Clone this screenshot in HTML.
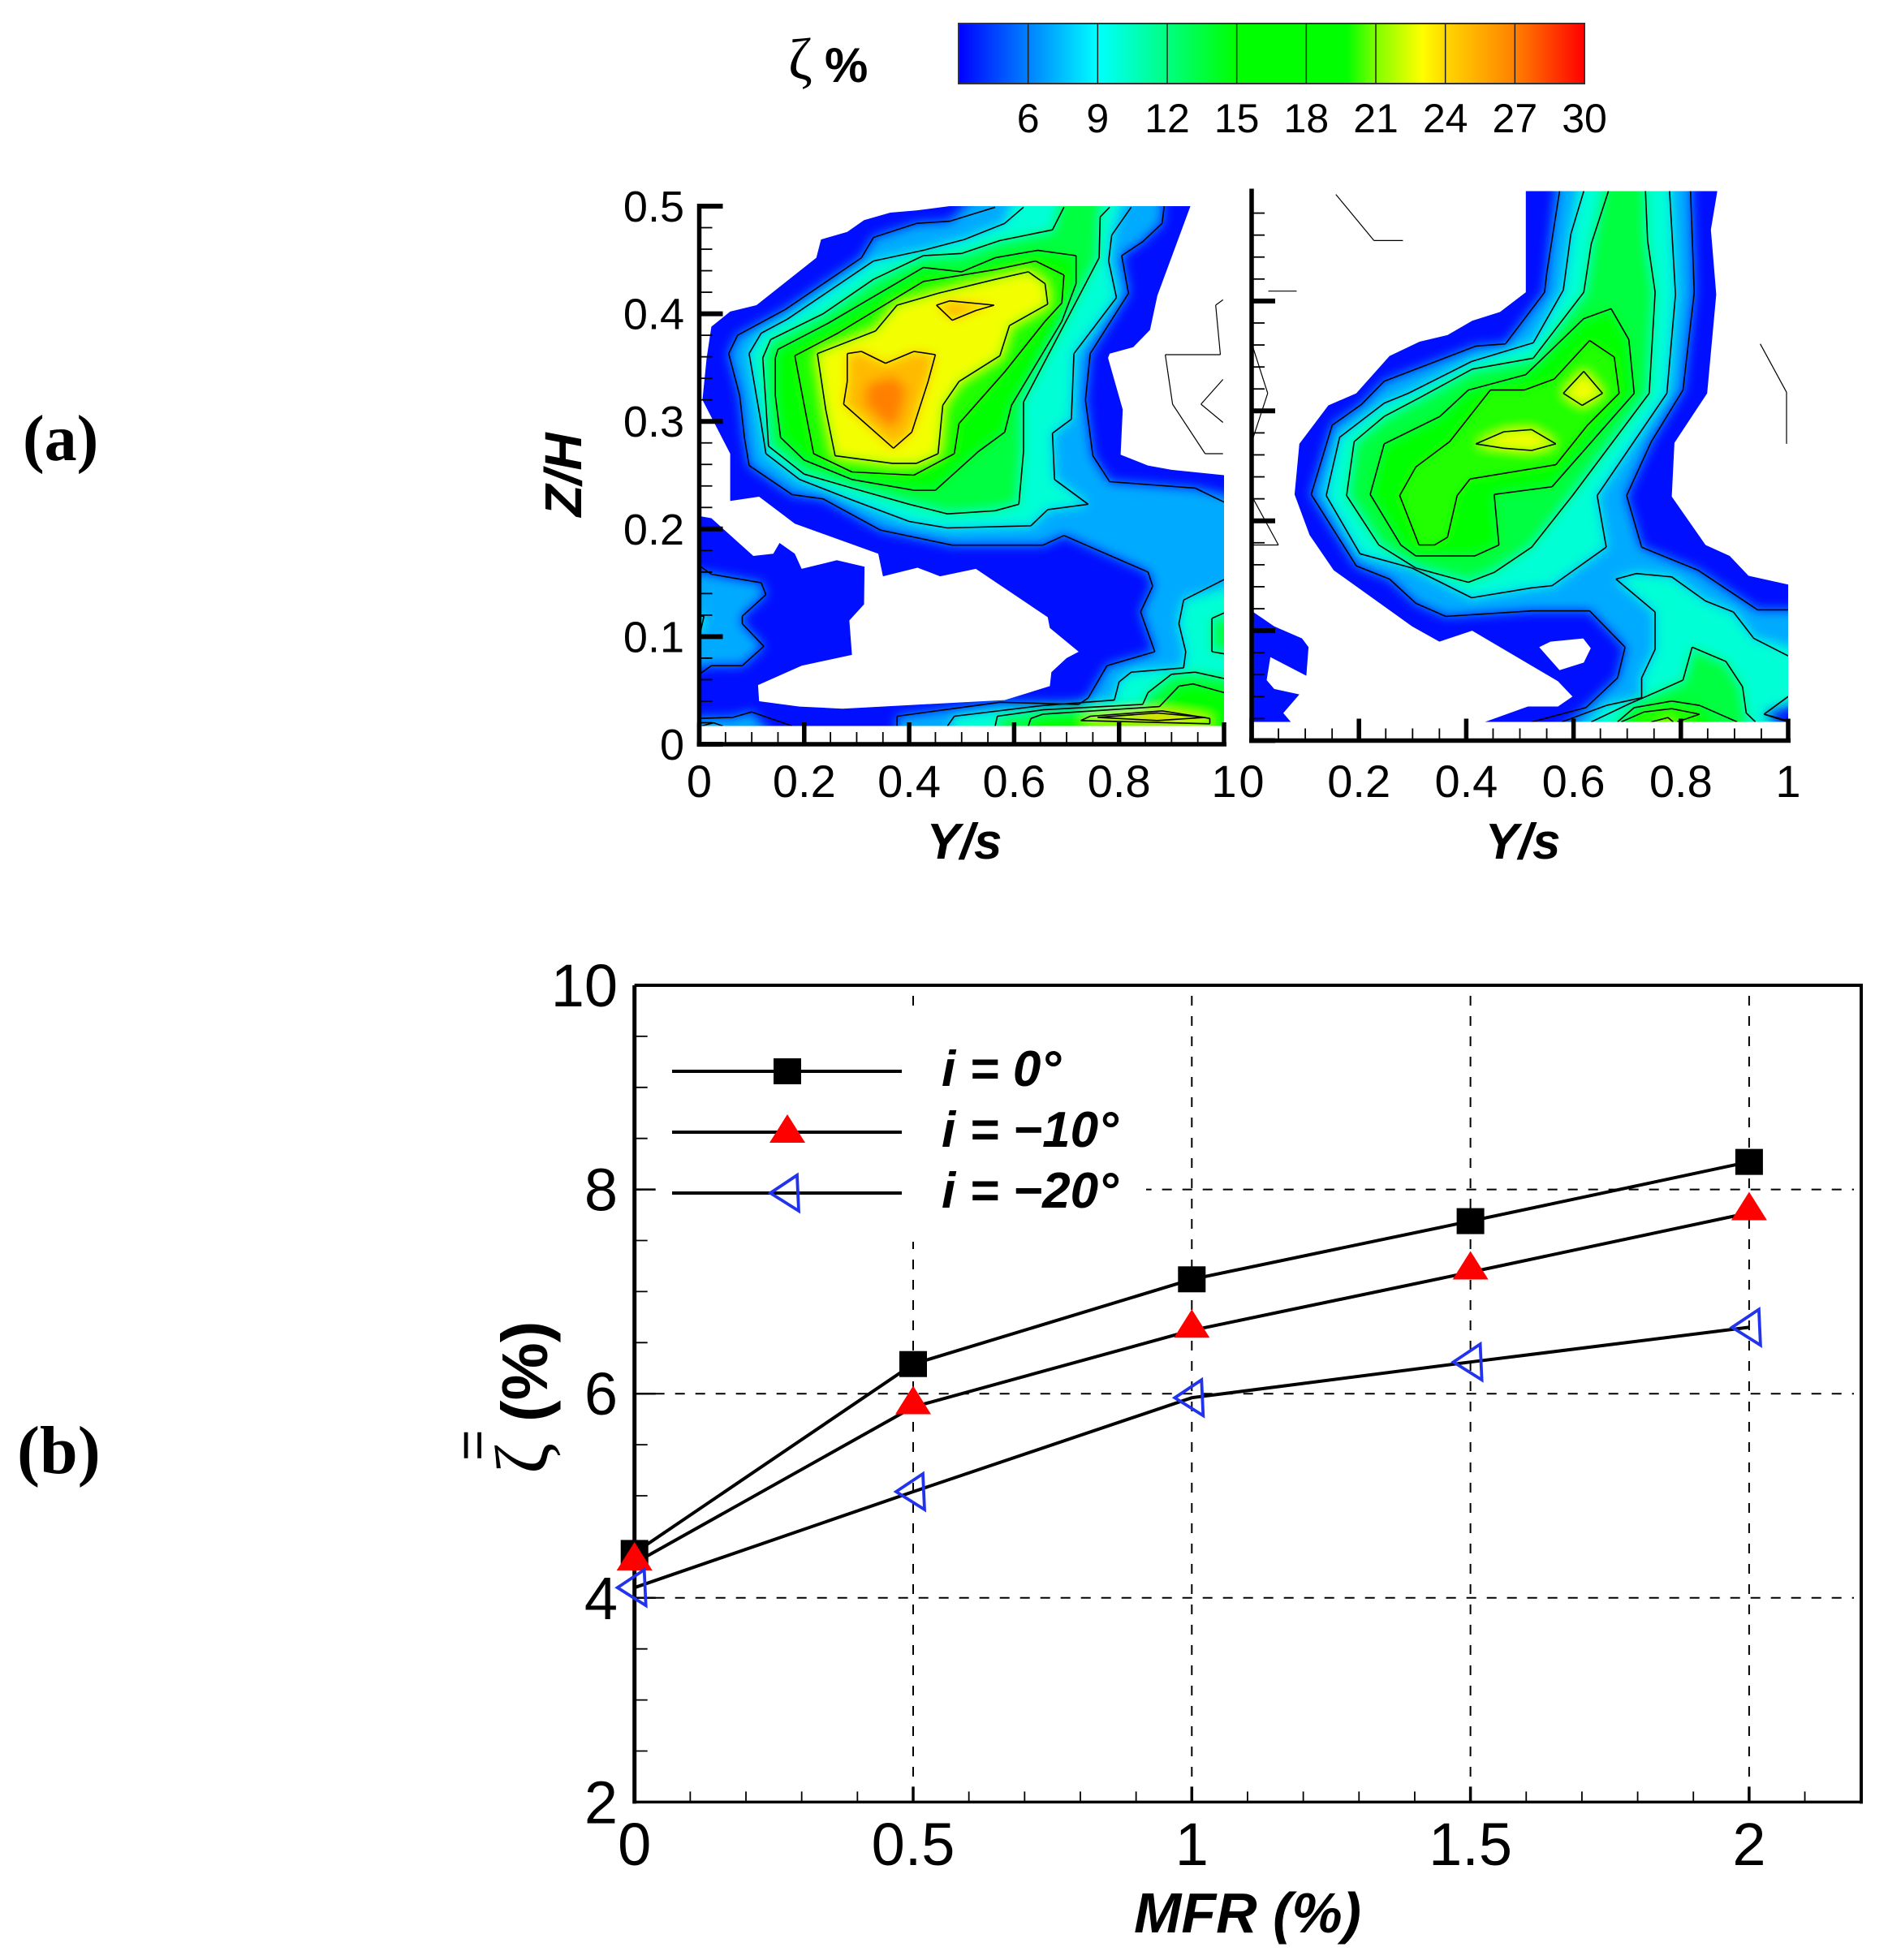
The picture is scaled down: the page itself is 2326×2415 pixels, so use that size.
<!DOCTYPE html>
<html lang="en">
<head>
<meta charset="utf-8">
<title>Loss coefficient contours and MFR chart</title>
<style>
html,body{margin:0;padding:0;background:#fff;width:2326px;height:2415px;overflow:hidden}
svg{display:block}
text{font-family:"Liberation Sans",sans-serif;fill:#000}
.serif{font-family:"Liberation Serif","DejaVu Serif",serif}
.title{font-weight:bold;font-style:italic}
</style>
</head>
<body>
<svg id="figure" xmlns="http://www.w3.org/2000/svg" width="2326" height="2415" viewBox="0 0 2326 2415">
  <defs>
    <linearGradient id="cbGrad" x1="0" x2="1" y1="0" y2="0">
      <stop offset="0" stop-color="#0000ff"/>
      <stop offset="0.111" stop-color="#0080ff"/>
      <stop offset="0.222" stop-color="#00ffff"/>
      <stop offset="0.333" stop-color="#00ff80"/>
      <stop offset="0.444" stop-color="#00ff00"/>
      <stop offset="0.62" stop-color="#00ff00"/>
      <stop offset="0.667" stop-color="#80ff00"/>
      <stop offset="0.74" stop-color="#ffff00"/>
      <stop offset="0.778" stop-color="#ffd700"/>
      <stop offset="0.889" stop-color="#ff8000"/>
      <stop offset="1" stop-color="#ff0000"/>
    </linearGradient>
    <filter id="softBlur" filterUnits="userSpaceOnUse" x="0" y="0" width="2326" height="1200">
      <feGaussianBlur stdDeviation="7"/>
    </filter>
  </defs>

  <text class="serif title" x="28" y="567" font-size="80" style="font-style:normal">(a)</text>
  <text class="serif title" x="21" y="1815" font-size="84" style="font-style:normal">(b)</text>

  <g id="colorbar">
    <rect x="1181" y="29" width="771" height="74" fill="url(#cbGrad)" stroke="#333" stroke-width="2"/>
    <text class="serif" x="971" y="97" font-size="72">ζ</text>
    <text x="1016" y="101" font-size="60" font-weight="bold">%</text>
  </g>

  <g id="contourA"></g>
  <g id="contourB"></g>

  <text class="title" transform="translate(716,585) rotate(-90)" text-anchor="middle" font-size="64">Z/H</text>
  <text class="title" x="1188" y="1058" text-anchor="middle" font-size="62">Y/s</text>
  <text class="title" x="1876" y="1058" text-anchor="middle" font-size="62">Y/s</text>

  <g id="linePlot"></g>

  <text transform="translate(674,1752) rotate(-90)" font-size="80" font-weight="bold">(%)</text>
  <text class="serif" transform="translate(674,1816) rotate(-90)" font-size="92">ζ</text>
  <text transform="translate(604,1800) rotate(-90)" font-size="66">=</text>
  <text class="title" x="1537" y="2381" text-anchor="middle" font-size="70">MFR (%)</text>
</svg>

<script>
// ---------- colour bar data ----------
const colorbarTicks = [6, 9, 12, 15, 18, 21, 24, 27, 30];

// ---------- contour panels: [Y/s, Z/H] ----------
const zTickLabels = ['0', '0.1', '0.2', '0.3', '0.4', '0.5'];
const yLabelsLeft = ['0', '0.2', '0.4', '0.6', '0.8', '1'];
const yLabelsRight = ['0', '0.2', '0.4', '0.6', '0.8', '1'];

const panelAOutline = [[.477,.5],[.414,.496],[.364,.494],[.314,.487],[.282,.476],[.232,.469],[.223,.452],[.109,.408],[.059,.402],[.023,.388],[.014,.359],[.006,.32],[.059,.27],[.059,.226],[.114,.23],[.182,.205],[.341,.177],[.35,.156],[.416,.164],[.459,.156],[.527,.163],[.664,.118],[.668,.108],[.723,.086],[.7,.08],[.671,.067],[.668,.054],[.582,.041],[.427,.037],[.273,.033],[.191,.035],[.114,.04],[.112,.055],[.195,.073],[.291,.083],[.286,.115],[.314,.13],[.315,.165],[.262,.171],[.195,.163],[.182,.177],[.153,.187],[.141,.177],[.103,.175],[.023,.21],[0,.212],[0,.017],[1,.017],[1,.25],[.9,.255],[.855,.259],[.803,.269],[.807,.311],[.779,.359],[.782,.363],[.827,.369],[.859,.385],[.873,.417],[.936,.5]];
const aMain6 = [[.564,.499],[.477,.486],[.414,.484],[.332,.471],[.309,.452],[.164,.404],[.073,.38],[.056,.363],[.077,.324],[.086,.285],[.095,.259],[.177,.232],[.236,.228],[.345,.199],[.482,.185],[.655,.185],[.695,.194],[.855,.16],[.864,.147],[.841,.123],[.868,.086],[.777,.073],[.741,.043],[.723,.037],[.573,.039],[.377,.026],[.377,.017],[1,.017],[1,.225],[.945,.238],[.782,.244],[.75,.268],[.736,.32],[.745,.363],[.818,.419],[.805,.454],[.845,.467],[.882,.484],[.886,.5]];
const aLobe6 = [[0,.166],[.023,.158],[.118,.15],[.127,.139],[.082,.119],[.082,.112],[.123,.091],[.082,.073],[.023,.073],[0,.065]];
const aStrip6 = [[0,.024],[.064,.025],[.1,.03],[.177,.017],[0,.017]];
const aMain9 = [[.618,.499],[.582,.484],[.505,.469],[.427,.459],[.332,.449],[.168,.395],[.118,.382],[.095,.363],[.118,.298],[.127,.27],[.191,.246],[.291,.227],[.4,.207],[.473,.201],[.632,.203],[.664,.218],[.741,.223],[.677,.246],[.673,.289],[.709,.302],[.714,.363],[.795,.415],[.78,.449],[.786,.473],[.823,.499]];
const aSmall9 = [[0,.119],[.009,.119],[.002,.104],[0,.104]];
const aWedge9 = [[1,.153],[.923,.134],[.914,.112],[.927,.086],[.923,.071],[.823,.067],[.8,.058],[.791,.041],[.655,.036],[.486,.026],[.473,.017],[1,.017]];
const aMain12 = [[.695,.499],[.673,.478],[.573,.468],[.5,.456],[.427,.454],[.332,.432],[.236,.4],[.136,.376],[.121,.359],[.127,.316],[.132,.277],[.2,.251],[.291,.238],[.4,.223],[.473,.214],[.564,.217],[.609,.223],[.618,.272],[.618,.318],[.718,.411],[.762,.452],[.764,.49],[.782,.499]];
const aIsland12 = [[1,.122],[.977,.117],[.977,.086],[1,.084]];
const aWedge12 = [[1,.061],[.945,.067],[.9,.065],[.855,.048],[.845,.037],[.655,.032],[.568,.026],[.564,.017],[1,.017]];
const aMain15 = [[.145,.359],[.15,.367],[.245,.391],[.427,.443],[.5,.439],[.564,.452],[.645,.459],[.718,.454],[.718,.428],[.691,.393],[.595,.315],[.582,.29],[.532,.272],[.45,.236],[.409,.236],[.291,.246],[.2,.264],[.155,.285],[.145,.324]];
const aWedge15 = [[1,.048],[.941,.056],[.914,.054],[.877,.035],[.655,.028],[.632,.024],[.627,.017],[1,.017]];
const aCorner15 = [[.005,.017],[.027,.02],[.045,.017]];
const aMain18 = [[.182,.361],[.264,.382],[.427,.43],[.564,.441],[.641,.449],[.695,.436],[.691,.41],[.659,.393],[.582,.346],[.495,.298],[.486,.27],[.409,.25],[.291,.253],[.218,.27],[.2,.315]];
const aMain21 = [[.225,.363],[.336,.384],[.377,.408],[.455,.419],[.564,.432],[.627,.439],[.659,.428],[.664,.409],[.591,.389],[.573,.361],[.495,.337],[.464,.315],[.455,.27],[.414,.261],[.368,.261],[.259,.268],[.241,.311]];
const aWedge21 = [[.973,.024],[.882,.031],[.745,.026],[.727,.022],[.973,.019]];
const aHeart24 = [[.282,.363],[.309,.365],[.355,.354],[.409,.365],[.45,.362],[.436,.337],[.405,.29],[.37,.275],[.275,.316],[.282,.337]];
const aPeak24 = [[.452,.408],[.477,.412],[.562,.408],[.527,.403],[.482,.394]];
const aWedge24 = [[.964,.025],[.873,.029],[.759,.025],[.873,.022]];
const aCore26 = [[.32,.335],[.37,.342],[.395,.33],[.38,.3],[.36,.295],[.315,.316]];
const panelAShapes = [aMain6,aLobe6,aStrip6,aMain9,aSmall9,aWedge9,aMain12,aIsland12,aWedge12,aMain15,aWedge15,aCorner15,aMain18,aMain21,aWedge21,aHeart24,aPeak24,aWedge24,aCore26];
const panelALevels = [6,6,6,9,9,9,12,12,12,15,15,15,18,21,21,24,24,24,26];
const panelABlankLines = [
  [[.998,.413],[.984,.408],[.993,.362],[.888,.362],[.902,.316],[.964,.27],[.998,.27]],
  [[.998,.339],[.956,.316],[.998,.299]]
];

const panelBOutline = [[.511,.5],[.511,.408],[.463,.39],[.411,.382],[.365,.369],[.313,.363],[.257,.35],[.195,.316],[.143,.305],[.089,.27],[.08,.224],[.108,.187],[.153,.155],[.299,.104],[.35,.09],[.411,.1],[.571,.054],[.598,.04],[.571,.031],[.515,.031],[.435,.017],[1,.017],[1,.142],[.926,.15],[.891,.168],[.846,.178],[.783,.222],[.788,.271],[.849,.316],[.866,.406],[.856,.465],[.868,.5]];
const panelBFragment = [[0,.118],[.042,.104],[.094,.093],[.106,.085],[.102,.059],[.035,.076],[.028,.055],[.042,.047],[.089,.042],[.059,.025],[.073,.017],[0,.017]];
const panelBHole = [[.536,.085],[.557,.09],[.618,.093],[.632,.084],[.619,.071],[.574,.064]];
const bMain6 = [[.574,.5],[.55,.425],[.546,.408],[.473,.361],[.418,.359],[.247,.327],[.205,.306],[.15,.287],[.111,.224],[.195,.159],[.257,.147],[.306,.125],[.362,.113],[.522,.118],[.63,.118],[.696,.085],[.682,.057],[.623,.03],[.522,.017],[1,.017],[1,.018],[.955,.024],[1,.04],[1,.119],[.943,.119],[.832,.155],[.727,.176],[.699,.223],[.745,.272],[.804,.319],[.825,.408],[.818,.5]];
const bMain9 = [[.619,.5],[.595,.461],[.581,.41],[.525,.362],[.41,.345],[.292,.316],[.247,.307],[.164,.276],[.139,.223],[.202,.17],[.299,.157],[.41,.13],[.522,.139],[.56,.141],[.661,.176],[.644,.223],[.774,.316],[.79,.406],[.779,.5]];
const bLower9 = [[.679,.147],[.717,.152],[.783,.149],[.846,.127],[.898,.117],[.936,.093],[1,.077],[1,.04],[.955,.024],[1,.017],[.578,.017],[.661,.032],[.727,.039],[.727,.057],[.752,.083],[.752,.117]];
const bMain12 = [[.665,.5],[.633,.452],[.619,.408],[.525,.348],[.411,.338],[.313,.312],[.247,.295],[.191,.272],[.177,.223],[.237,.178],[.306,.157],[.404,.144],[.452,.153],[.522,.176],[.598,.223],[.741,.316],[.752,.408],[.738,.455],[.734,.5]];
const bLower12 = [[.633,.017],[.706,.034],[.758,.045],[.804,.055],[.821,.085],[.884,.072],[.915,.049],[.922,.025],[.939,.017]];
const bMain15 = [[.67,.393],[.703,.365],[.713,.316],[.56,.231],[.452,.224],[.461,.178],[.416,.168],[.306,.168],[.278,.178],[.221,.224],[.247,.27],[.351,.295],[.404,.319],[.511,.333],[.619,.384]];
const bLower15 = [[.682,.017],[.713,.03],[.783,.036],[.835,.032],[.905,.017]];
const bMain18 = [[.276,.223],[.306,.249],[.369,.272],[.445,.319],[.508,.319],[.564,.329],[.63,.364],[.676,.349],[.685,.316],[.626,.287],[.567,.251],[.407,.238],[.383,.223],[.365,.185],[.341,.178],[.312,.178]];
const bLower18 = [[.689,.017],[.731,.026],[.783,.029],[.835,.024],[.793,.017]];
const bSpotA21 = [[.581,.316],[.619,.336],[.654,.316],[.616,.305]];
const bSpotB21 = [[.418,.27],[.47,.281],[.522,.283],[.567,.27],[.522,.264],[.47,.266]];
const bLower21 = [[.745,.017],[.776,.021],[.786,.017]];
const panelBShapes = [bMain6,bMain9,bLower9,bMain12,bLower12,bMain15,bLower15,bMain18,bLower18,bSpotA21,bSpotB21,bLower21];
const panelBLevels = [6,9,9,12,12,15,15,18,18,21,21,21];
const panelBBlankLines = [
  [[.157,.497],[.228,.455],[.282,.455]],
  [[.031,.409],[.084,.409]],
  [[.003,.357],[.03,.316],[.003,.276]],
  [[.003,.22],[.05,.178],[.003,.178]],
  [[.948,.361],[.997,.317],[.997,.27]]
];

// ---------- line plot data ----------
const mfrCategories = [0, 0.5, 1, 1.5, 2];
const mfrTickLabels = ['0', '0.5', '1', '1.5', '2'];
const lossTickValues = [2, 4, 6, 8, 10];
const seriesIncidence0 = [4.44, 6.29, 7.12, 7.69, 8.27];
const seriesIncidence10 = [4.34, 5.87, 6.62, 7.19, 7.77];
const seriesIncidence20 = [4.10, 5.04, 5.96, 6.31, 6.65];
const legendLabels = ['i = 0°', 'i = −10°', 'i = −20°'];

// ---------- helpers ----------
const NS = 'http://www.w3.org/2000/svg';
function mk(tag, attrs, parent) {
  const el = document.createElementNS(NS, tag);
  for (const k in attrs) el.setAttribute(k, attrs[k]);
  parent.appendChild(el);
  return el;
}
function mapColor(v) {
  const s = [[3,0,0,255],[6,0,128,255],[9,0,255,255],[12,0,255,128],[15,0,255,0],[19,0,255,0],[21,130,255,0],[23,255,255,0],[24,255,215,0],[27,255,128,0],[30,255,0,0]];
  for (let i = 1; i < s.length; i++) {
    if (v <= s[i][0]) {
      const t = (v - s[i-1][0]) / (s[i][0] - s[i-1][0]);
      const c = [1,2,3].map(j => Math.round(s[i-1][j] + t * (s[i][j] - s[i-1][j])));
      return 'rgb(' + c.join(',') + ')';
    }
  }
  return 'rgb(255,0,0)';
}
function bandColor(level) {
  if (level <= 9) return mapColor(level + 1);
  if (level === 21) return mapColor(level + 1.8);
  if (level >= 24) return mapColor(level + 1);
  return mapColor(level + 1.5);
}
function polyStr(pts, sx, sy) {
  return pts.map(p => sx(p[0]).toFixed(1) + ',' + sy(p[1]).toFixed(1)).join(' ');
}
function isEdge(p) {
  return p[0] <= .001 || p[0] >= .999 || p[1] >= .499 || p[1] <= .0185;
}
function bleedStr(pts, sx, sy) {
  return pts.map(p => {
    let x = sx(p[0]), y = sy(p[1]);
    if (p[0] <= .001) x -= 40;
    if (p[0] >= .999) x += 40;
    if (p[1] >= .499) y -= 40;
    if (p[1] <= .0185) y += 40;
    return x.toFixed(1) + ',' + y.toFixed(1);
  }).join(' ');
}
function linePath(pts, sx, sy, closed) {
  let d = '';
  const n = pts.length;
  const last = closed ? n : n - 1;
  for (let i = 0; i < last; i++) {
    const a = pts[i], b = pts[(i + 1) % n];
    if (closed && isEdge(a) && isEdge(b)) continue;
    d += 'M' + sx(a[0]).toFixed(1) + ' ' + sy(a[1]).toFixed(1) + 'L' + sx(b[0]).toFixed(1) + ' ' + sy(b[1]).toFixed(1);
  }
  return d;
}

// ---------- colour bar ----------
const cbar = document.getElementById('colorbar');
const cbX = v => 1181 + (v - 3) * (771 / 27);
colorbarTicks.forEach(v => {
  if (v < 30) {
    const t = mk('line', {x1: cbX(v), x2: cbX(v), y1: 29, y2: 103, stroke: '#222', 'stroke-width': 1.5}, cbar);
    
    
  }
  const l = mk('text', {x: cbX(v), y: 163, 'text-anchor': 'middle', 'font-size': 50}, cbar);
  l.textContent = String(v);
  
  
});

// ---------- contour panels ----------
function drawContourPanel(root, key, sx, sy, outlines, shapes, levels, hole, blankLines) {
  const clip = mk('clipPath', {id: 'clip' + key}, root);
  outlines.forEach(o => { mk('polygon', {points: polyStr(o, sx, sy)}, clip); });
  const body = mk('g', {'clip-path': 'url(#clip' + key + ')'}, root);
  
  
  const base = mk('rect', {x: sx(0) - 5, y: sy(.5) - 5, width: sx(1) - sx(0) + 10, height: sy(0) - sy(.5) + 10, fill: 'rgb(0,15,255)'}, body);
  
  
  const soft = mk('g', {filter: 'url(#softBlur)'}, body);
  
  
  shapes.forEach((pts, i) => {
    const pg = mk('polygon', {points: bleedStr(pts, sx, sy), fill: bandColor(levels[i])}, soft);
    
    
  });
  shapes.forEach((pts, i) => {
    if (levels[i] % 3 !== 0) return;
    const ln = mk('path', {d: linePath(pts, sx, sy, true), fill: 'none', stroke: '#000', 'stroke-width': 1.6}, body);
    
    
  });
  if (hole) {
    const h = mk('polygon', {points: polyStr(hole, sx, sy), fill: '#fff'}, root);
    
    
  }
  blankLines.forEach(pts => {
    const bl = mk('path', {d: linePath(pts, sx, sy, false), fill: 'none', stroke: '#000', 'stroke-width': 1.2}, root);
    
    
  });
}
function drawContourAxes(root, sx, sy, labels, zLabels, hasTopTick) {
  const yAxis = mk('line', {x1: sx(0), x2: sx(0), y1: sy(.5) - 3, y2: sy(0) + 3, stroke: '#000', 'stroke-width': 5.5}, root);
  
  
  const xAxis = mk('line', {x1: sx(0) - 3, x2: sx(1) + 3, y1: sy(0), y2: sy(0), stroke: '#000', 'stroke-width': 5.5}, root);
  
  
  for (let i = 0; i <= 25; i++) {
    if (i === 25 && !hasTopTick) continue;
    const z = i * .02, major = i % 5 === 0;
    const t = mk('line', {x1: sx(0), x2: sx(0) + (major ? 29 : 16), y1: sy(z), y2: sy(z), stroke: '#000', 'stroke-width': major ? 6 : 1.8}, root);
    
    
  }
  for (let i = 0; i <= 20; i++) {
    const y = i * .05, major = i % 4 === 0;
    const t = mk('line', {x1: sx(y), x2: sx(y), y1: sy(0), y2: sy(0) - (major ? 27 : 15), stroke: '#000', 'stroke-width': major ? 5.5 : 1.8}, root);
    
    
  }
  labels.forEach((s, i) => {
    const l = mk('text', {x: sx(i * .2), y: 982, 'text-anchor': 'middle', 'font-size': 56}, root);
    l.textContent = s;
    
    
  });
  zLabels.forEach((s, i) => {
    const l = mk('text', {x: 843, y: sy(i * .1) + 19, 'text-anchor': 'end', 'font-size': 54}, root);
    l.textContent = s;
    
    
  });
}
const sxA = v => 861.5 + v * 646.5;
const syA = v => 917 - v * 1326;
const sxB = v => 1542 + v * 661;
const syB = v => 912.5 - v * 1354;
const gA = document.getElementById('contourA');
const gB = document.getElementById('contourB');
drawContourPanel(gA, 'A', sxA, syA, [panelAOutline], panelAShapes, panelALevels, null, panelABlankLines);
drawContourPanel(gB, 'B', sxB, syB, [panelBOutline, panelBFragment], panelBShapes, panelBLevels, panelBHole, panelBBlankLines);
drawContourAxes(gA, sxA, syA, yLabelsLeft, zTickLabels, true);
drawContourAxes(gB, sxB, syB, yLabelsRight, [], false);

// ---------- line plot ----------
const lp = document.getElementById('linePlot');
const sx = v => 781.7 + v * 686.6;
const sy = v => 1214 + (10 - v) * 125.8;
lossTickValues.forEach(v => {
  if (v === 2 || v === 10) return;
  const g = mk('line', {x1: sx(0), x2: 2284, y1: sy(v), y2: sy(v), stroke: '#000', 'stroke-width': 2, 'stroke-dasharray': '12 13'}, lp);
  
  
});
mfrCategories.forEach(v => {
  if (v === 0) return;
  const g = mk('line', {x1: sx(v), x2: sx(v), y1: 1227, y2: sy(2), stroke: '#000', 'stroke-width': 2, 'stroke-dasharray': '12 13'}, lp);
  
  
});
const legendBox = mk('rect', {x: 790, y: 1241, width: 622, height: 289, fill: '#fff'}, lp);



const frameTop = mk('line', {x1: sx(0), x2: 2295, y1: sy(10), y2: sy(10), stroke: '#000', 'stroke-width': 4}, lp);


const frameRight = mk('line', {x1: 2293, x2: 2293, y1: sy(10), y2: sy(2) + 2, stroke: '#000', 'stroke-width': 4}, lp);


const frameBottom = mk('line', {x1: sx(0) - 2, x2: 2295, y1: sy(2), y2: sy(2), stroke: '#000', 'stroke-width': 3.5}, lp);


const frameLeft = mk('line', {x1: sx(0), x2: sx(0), y1: sy(10), y2: sy(2) + 2, stroke: '#000', 'stroke-width': 5}, lp);



for (let i = 0; i <= 16; i++) {
  const v = 2 + i * .5, major = i % 4 === 0;
  const t = mk('line', {x1: sx(0), x2: sx(0) + (major ? 26 : 16), y1: sy(v), y2: sy(v), stroke: '#000', 'stroke-width': major ? 2.5 : 1.8}, lp);
  
  
}
for (let i = 0; i <= 22; i++) {
  const v = i * .1, major = i % 5 === 0;
  const t = mk('line', {x1: sx(v), x2: sx(v), y1: sy(2), y2: sy(2) - (major ? 19 : 13), stroke: '#000', 'stroke-width': major ? 3.5 : 1.8}, lp);
  
  
}
lossTickValues.forEach(v => {
  const l = mk('text', {x: 761, y: sy(v) + 26, 'text-anchor': 'end', 'font-size': 74}, lp);
  l.textContent = String(v);
  
  
});
mfrCategories.forEach((v, i) => {
  const l = mk('text', {x: sx(v), y: 2298, 'text-anchor': 'middle', 'font-size': 74}, lp);
  l.textContent = mfrTickLabels[i];
  
  
});

function squareMarker(parent, x, y) {
  return mk('rect', {x: x - 17, y: y - 16, width: 34, height: 32, fill: '#000'}, parent);
}
function triangleMarker(parent, x, y) {
  return mk('polygon', {points: (x - 22) + ',' + (y + 9) + ' ' + x + ',' + (y - 26) + ' ' + (x + 22) + ',' + (y + 9), fill: '#ff0000'}, parent);
}
function leftTriMarker(parent, x, y) {
  return mk('polygon', {points: (x - 21) + ',' + y + ' ' + (x + 12) + ',' + (y - 22) + ' ' + (x + 14) + ',' + (y + 22), fill: 'none', stroke: '#2233ee', 'stroke-width': 3.8}, parent);
}
const seriesAll = [seriesIncidence0, seriesIncidence10, seriesIncidence20];
const markerFns = [squareMarker, triangleMarker, leftTriMarker];
seriesAll.forEach((vals, k) => {
  const pts = vals.map((v, i) => sx(mfrCategories[i]).toFixed(1) + ',' + sy(v).toFixed(1)).join(' ');
  const ln = mk('polyline', {points: pts, fill: 'none', stroke: '#000', 'stroke-width': 4}, lp);
  
  
});
seriesAll.forEach((vals, k) => {
  vals.forEach((v, i) => {
    const m = markerFns[k](lp, sx(mfrCategories[i]), sy(v));
    
    
  });
});
legendLabels.forEach((s, k) => {
  const y = 1320 + k * 75;
  const ln = mk('line', {x1: 828, x2: 1111, y1: y, y2: y, stroke: '#000', 'stroke-width': 4}, lp);
  
  
  const m = markerFns[k](lp, 970, k === 1 ? y + 4 : y);
  
  
  const t = mk('text', {x: 1160, y: y + 18, class: 'title', 'font-size': 62}, lp);
  t.textContent = s;
  
  
});
</script>
</body>
</html>
